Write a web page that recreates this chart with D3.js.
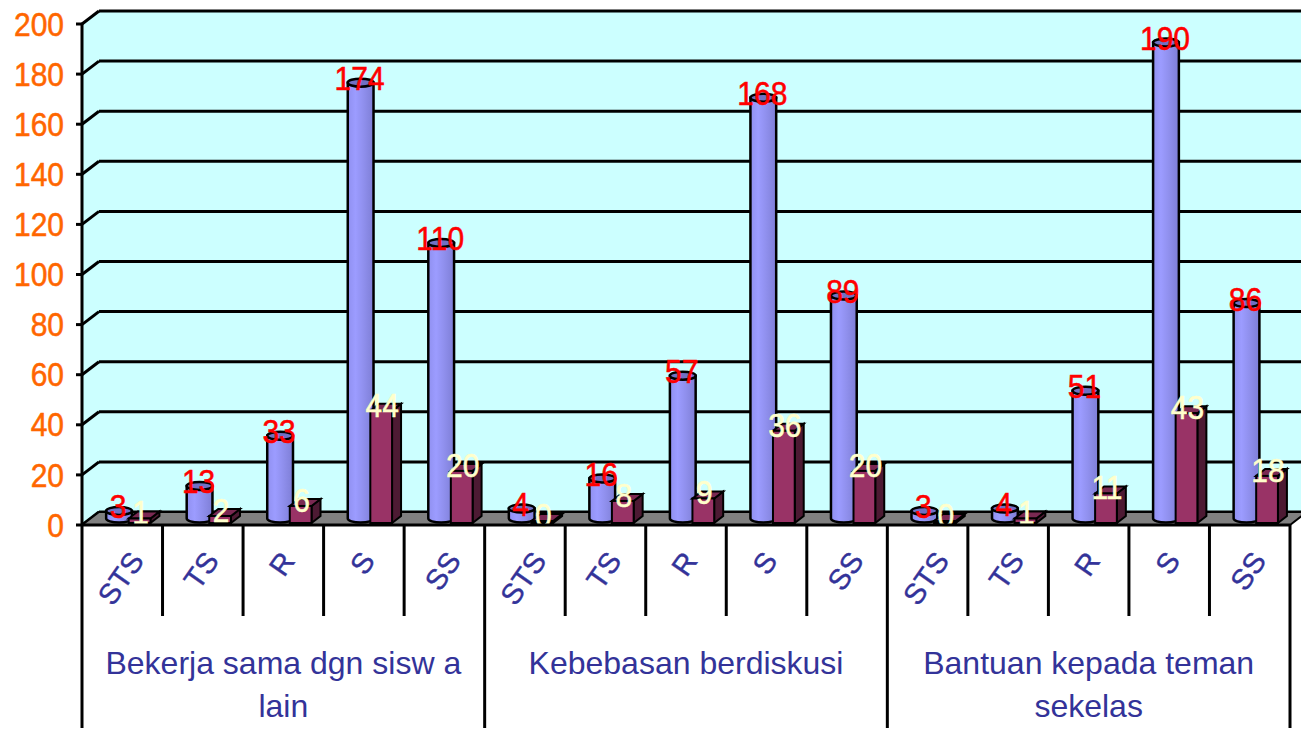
<!DOCTYPE html>
<html>
<head>
<meta charset="utf-8">
<script src="https://cdn.jsdelivr.net/npm/d3@7"></script>
<style>
  body { margin: 0; background: #fff; }
  text { font-family: "Liberation Sans", Arial, sans-serif; }
</style>
</head>
<body>
<svg id="chart" width="1301" height="746"></svg>
<script>
"use strict";

// data
var groups = [
  ["Bekerja sama dgn sisw a", "lain"],
  ["Kebebasan berdiskusi"],
  ["Bantuan kepada teman", "sekelas"]
];
var answers = ["STS", "TS", "R", "S", "SS"];
var blueValues = [3, 13, 33, 174, 110, 4, 16, 57, 168, 89, 3, 4, 51, 190, 86];
var redValues = [1, 2, 6, 44, 20, 0, 8, 9, 36, 20, 0, 1, 11, 43, 18];
var yTicks = [0, 20, 40, 60, 80, 100, 120, 140, 160, 180, 200];

var categories = [];
groups.forEach(function(g, gi) {
  answers.forEach(function(a) { categories.push({ group: gi, label: a }); });
});

var svg = d3.select("#chart");

var left = 82, right = 1290, depthX = 17, depthY = -13;
var y = d3.scaleLinear().domain([0, 200]).range([525, 24]);
var x = d3.scaleBand().domain(d3.range(categories.length)).range([left, right]).padding(0);
var w = x.bandwidth();
var stretch = 1.08; // the original text is a little taller than it is wide

var defs = svg.append("defs");
var grad = defs.append("linearGradient").attr("id", "blueGrad")
  .attr("x1", "0%").attr("x2", "100%").attr("y1", "0%").attr("y2", "0%");
grad.append("stop").attr("offset", "0%").attr("stop-color", "#9090f0");
grad.append("stop").attr("offset", "30%").attr("stop-color", "#9c9cff");
grad.append("stop").attr("offset", "60%").attr("stop-color", "#9090ee");
grad.append("stop").attr("offset", "100%").attr("stop-color", "#7e7ed6");

// walls
svg.append("polygon")
  .attr("points", [[left, y(200)], [left + depthX, y(200) + depthY], [1301, y(200) + depthY],
                   [1301, y(0) + depthY], [right, y(0)], [left, y(0)]].join(" "))
  .attr("fill", "#ccffff");

// gridlines
var grid = svg.append("g");
yTicks.forEach(function(t) {
  grid.append("line")
    .attr("x1", left).attr("y1", y(t)).attr("x2", left + depthX).attr("y2", y(t) + depthY)
    .attr("stroke", "#000").attr("stroke-width", 3);
  grid.append("line")
    .attr("x1", left + depthX).attr("y1", y(t) + depthY).attr("x2", 1301).attr("y2", y(t) + depthY)
    .attr("stroke", "#000").attr("stroke-width", 3);
  grid.append("line")
    .attr("x1", left - 6).attr("y1", y(t)).attr("x2", left).attr("y2", y(t))
    .attr("stroke", "#000").attr("stroke-width", 3);
});

// floor
svg.append("polygon")
  .attr("points", [[left, y(0)], [left + depthX, y(0) + depthY], [right + depthX, y(0) + depthY], [right, y(0)]].join(" "))
  .attr("fill", "#808080").attr("stroke", "#000").attr("stroke-width", 2);

// y axis line
svg.append("line")
  .attr("x1", left).attr("y1", y(200)).attr("x2", left).attr("y2", y(0))
  .attr("stroke", "#000").attr("stroke-width", 3);

svg.append("g").selectAll("text")
  .data(yTicks).enter().append("text")
  .attr("transform", function(d) { return "translate(64," + y(d) + ") scale(1," + stretch + ")"; })
  .attr("dy", "0.36em")
  .attr("text-anchor", "end")
  .attr("font-size", 30)
  .attr("fill", "#ff6600")
  .attr("stroke", "#ff6600").attr("stroke-width", 0.5)
  .text(function(d) { return d; });

// bars
var bars = svg.append("g");
var labels = [];
var ry = 4;
categories.forEach(function(c, i) {
  var x0 = x(i);
  // blue cylinder, centred half way into the depth
  var b0 = x0 + w * 0.30, b1 = x0 + w * 0.62;
  var cx = (b0 + b1) / 2, rx = (b1 - b0) / 2;
  var bTop = y(blueValues[i]) - 6.5;
  var bBot = y(0) - 6.5;
  bars.append("path")
    .attr("d", "M" + b0 + "," + bTop + "L" + b0 + "," + bBot +
               "A" + rx + "," + ry + " 0 0 0 " + b1 + "," + bBot +
               "L" + b1 + "," + bTop + "Z")
    .attr("fill", "url(#blueGrad)").attr("stroke", "#000").attr("stroke-width", 2.5);
  bars.append("ellipse")
    .attr("cx", cx).attr("cy", bTop).attr("rx", rx).attr("ry", ry)
    .attr("fill", "#7070c4").attr("stroke", "#000").attr("stroke-width", 2.5);
  labels.push({ x: cx - 1, y: y(blueValues[i]) + 1, v: blueValues[i], color: "#ff0000" });

  // maroon box
  var m0 = x0 + w * 0.58, m1 = x0 + w * 0.85, dx = 9, dy = -7;
  var mTop = y(redValues[i]) - 4;
  var base = y(0) - 2;
  bars.append("polygon")
    .attr("points", [[m1, mTop], [m1 + dx, mTop + dy], [m1 + dx, base + dy], [m1, base]].join(" "))
    .attr("fill", "#4d1a33").attr("stroke", "#000").attr("stroke-width", 2);
  bars.append("polygon")
    .attr("points", [[m0, mTop], [m0 + dx, mTop + dy], [m1 + dx, mTop + dy], [m1, mTop]].join(" "))
    .attr("fill", "#7a2952").attr("stroke", "#000").attr("stroke-width", 2);
  bars.append("rect")
    .attr("x", m0).attr("y", mTop).attr("width", m1 - m0).attr("height", base - mTop)
    .attr("fill", "#993366").attr("stroke", "#000").attr("stroke-width", 2);
  labels.push({ x: (m0 + m1) / 2 + 1, y: y(redValues[i]) + 2, v: redValues[i], color: "#ffffcc" });
});

svg.append("g").selectAll("text")
  .data(labels).enter().append("text")
  .attr("transform", function(d) { return "translate(" + d.x + "," + d.y + ") scale(1," + stretch + ")"; })
  .attr("text-anchor", "middle")
  .attr("font-size", 30)
  .attr("fill", function(d) { return d.color; })
  .attr("stroke", function(d) { return d.color; }).attr("stroke-width", 0.5)
  .text(function(d) { return d.v; });

// category axis
svg.append("line")
  .attr("x1", left).attr("y1", y(0)).attr("x2", right).attr("y2", y(0))
  .attr("stroke", "#000").attr("stroke-width", 3);

var axisG = svg.append("g");
d3.range(categories.length + 1).forEach(function(i) {
  var xx = i < categories.length ? x(i) : right;
  var isGroup = i % answers.length === 0;
  axisG.append("line")
    .attr("x1", xx).attr("y1", y(0)).attr("x2", xx).attr("y2", isGroup ? 728 : 616)
    .attr("stroke", "#000").attr("stroke-width", 3);
});

// rotated answer labels: their upper end sits on a common line
var angle = 55, rad = angle * Math.PI / 180;
axisG.selectAll("text.cat")
  .data(categories).enter().append("text")
  .attr("class", "cat")
  .attr("text-anchor", "middle")
  .attr("dy", "0.36em")
  .attr("font-size", 29)
  .attr("fill", "#333399")
  .attr("stroke", "#333399").attr("stroke-width", 0.4)
  .text(function(d) { return d.label; })
  .attr("transform", function(d, i) {
    var len = this.getComputedTextLength();
    var cy = 555 + (len / 2) * Math.sin(rad);
    return "translate(" + (x(i) + w / 2 - 2) + "," + cy + ") rotate(" + (-angle) + ")";
  });

groups.forEach(function(g, gi) {
  var gx0 = x(gi * answers.length);
  var gx1 = gi === groups.length - 1 ? right : x((gi + 1) * answers.length);
  var t = axisG.append("text")
    .attr("x", (gx0 + gx1) / 2)
    .attr("y", 674)
    .attr("text-anchor", "middle")
    .attr("font-size", 32)
    .attr("fill", "#333399");
  g.forEach(function(line, li) {
    t.append("tspan").attr("x", (gx0 + gx1) / 2).attr("dy", li === 0 ? 0 : 43).text(line);
  });
});
</script>
</body>
</html>
